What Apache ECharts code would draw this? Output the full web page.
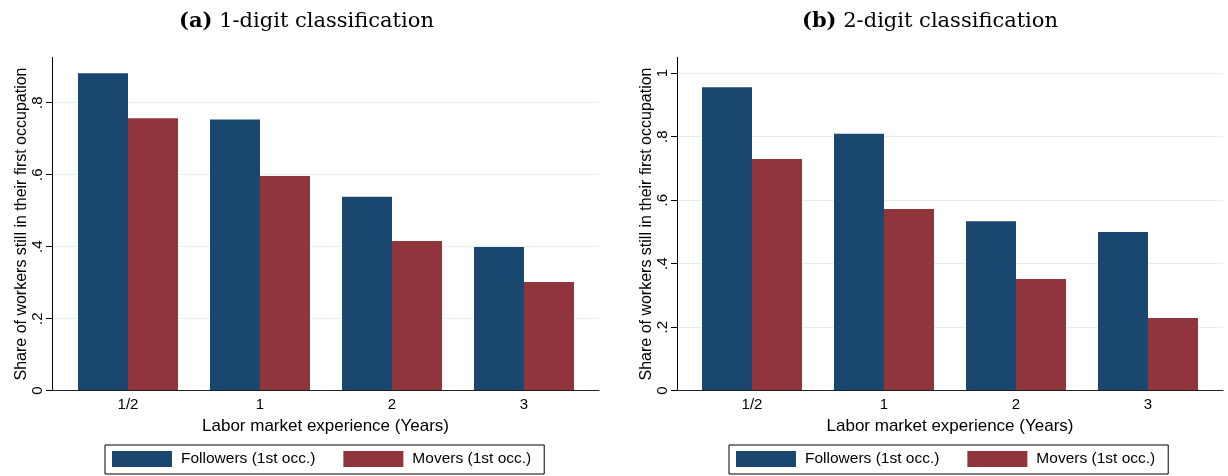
<!DOCTYPE html>
<html>
<head>
<meta charset="utf-8">
<script src="https://cdn.jsdelivr.net/npm/echarts@6/dist/echarts.min.js"></script>
<style>
  html, body { margin: 0; padding: 0; background: #fff; }
  #chart { width: 1228px; height: 476px; }
</style>
</head>
<body>
<div id="chart"></div>
<script>
// Experience categories on the horizontal axis
const categories = ['1/2', '1', '2', '3'];

// Panel (a): 1-digit occupation classification
const followers1 = [0.882, 0.753, 0.539, 0.399];
const movers1    = [0.757, 0.596, 0.416, 0.302];

// Panel (b): 2-digit occupation classification
const followers2 = [0.956, 0.809, 0.534, 0.500];
const movers2    = [0.730, 0.572, 0.352, 0.229];

// Y tick values per panel
const ticksA = [0, 0.2, 0.4, 0.6, 0.8];
const ticksB = [0, 0.2, 0.4, 0.6, 0.8, 1];

const seriesNames = ['Followers (1st occ.)', 'Movers (1st occ.)'];
const COLORS = ['#1a476f', '#90353b'];
const SANS = 'Liberation Sans';

const fmtTick = v => (v === 0 ? '0' : String(v).replace(/^0/, ''));

function frameAxes(gridIndex, yMax, ticks) {
  return {
    x: {
      type: 'value', gridIndex, min: 0, max: 1, z: 3,
      axisLine: { show: true, lineStyle: { color: '#222', width: 1 } },
      axisTick: { show: false }, axisLabel: { show: false }, splitLine: { show: false },
      name: 'Labor market experience (Years)', nameLocation: 'middle', nameGap: 27,
      nameTextStyle: { fontFamily: SANS, fontSize: 17, color: '#000' }
    },
    y: {
      type: 'value', gridIndex, min: 0, max: yMax,
      axisLine: { show: true, lineStyle: { color: '#000', width: 1 } },
      axisTick: { show: true, length: 6, customValues: ticks, lineStyle: { color: '#000' } },
      axisLabel: {
        customValues: ticks, rotate: 90, margin: 7, formatter: fmtTick,
        fontFamily: SANS, fontSize: 15, color: '#000'
      },
      splitLine: { show: true, lineStyle: { color: '#e6eef0', width: 1 } },
      name: 'Share of workers still in their first occupation',
      nameLocation: 'middle', nameGap: 22,
      nameTextStyle: { fontFamily: SANS, fontSize: 16, color: '#000' }
    }
  };
}

function barAxes(gridIndex, yMax) {
  return {
    x: {
      type: 'category', gridIndex, data: categories,
      axisLine: { show: false }, axisTick: { show: false },
      axisLabel: { margin: 7, fontFamily: SANS, fontSize: 15, color: '#000' }
    },
    y: { type: 'value', gridIndex, min: 0, max: yMax, show: false, splitLine: { show: false } }
  };
}

const yMaxA = 0.926, yMaxB = 1.05;
const fA = frameAxes(0, yMaxA, ticksA), bA = barAxes(1, yMaxA);
const fB = frameAxes(2, yMaxB, ticksB), bB = barAxes(3, yMaxB);

function bars(name, data, axisIdx, color) {
  return {
    type: 'bar', name, data, xAxisIndex: axisIdx, yAxisIndex: axisIdx,
    barWidth: 50, barGap: '0%', itemStyle: { color }, silent: true
  };
}

function legendAt(left) {
  return {
    left, top: 445, orient: 'horizontal',
    data: seriesNames, icon: 'rect', itemWidth: 60, itemHeight: 16, itemGap: 28,
    padding: [6, 13, 7, 7], borderColor: '#000', borderWidth: 1, borderRadius: 0,
    textStyle: { fontFamily: SANS, fontSize: 15.5, color: '#000', padding: [0, 0, 0, 4] },
    selectedMode: false
  };
}

const titleStyle = {
  fontFamily: 'DejaVu Serif', fontSize: 21, fontWeight: 'normal', color: '#000',
  rich: { b: { fontFamily: 'DejaVu Serif', fontSize: 21, fontWeight: 'bold', color: '#000' } }
};

const option = {
  animation: false,
  backgroundColor: '#fff',
  title: [
    { text: '{b|(a)} 1-digit classification', left: 174, top: 6, textStyle: titleStyle },
    { text: '{b|(b)} 2-digit classification', left: 797, top: 6, textStyle: titleStyle }
  ],
  grid: [
    { left: 52, top: 57.3, width: 547, height: 333.4 },
    { left: 62, top: 57.3, width: 528, height: 333.4 },
    { left: 677, top: 57.3, width: 546, height: 333.4 },
    { left: 686, top: 57.3, width: 528, height: 333.4 }
  ],
  xAxis: [fA.x, bA.x, fB.x, bB.x],
  yAxis: [fA.y, bA.y, fB.y, bB.y],
  legend: [legendAt(105), legendAt(729)],
  series: [
    bars(seriesNames[0], followers1, 1, COLORS[0]),
    bars(seriesNames[1], movers1, 1, COLORS[1]),
    bars(seriesNames[0], followers2, 3, COLORS[0]),
    bars(seriesNames[1], movers2, 3, COLORS[1])
  ]
};

const chart = echarts.init(document.getElementById('chart'), null, { renderer: 'canvas' });
chart.setOption(option);
</script>
</body>
</html>
